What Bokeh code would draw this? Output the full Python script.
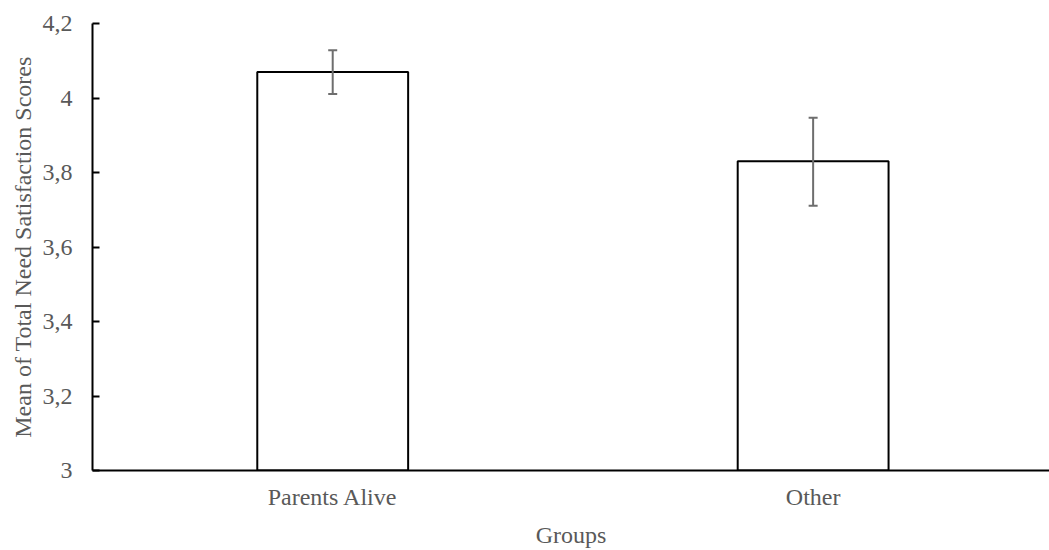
from bokeh.plotting import figure
from bokeh.models import Range1d, FixedTicker, CustomJSTickFormatter, Whisker, ColumnDataSource, TeeHead
from bokeh.embed import file_html
from bokeh.resources import INLINE

groups = ["Parents Alive", "Other"]
means = [4.07, 3.83]
err_low = [4.011, 3.711]
err_high = [4.128, 3.947]
y_ticks = [3.0, 3.2, 3.4, 3.6, 3.8, 4.0, 4.2]
x_title = "Groups"
y_title = "Mean of Total Need Satisfaction Scores"

xpos = [i + 0.5 for i in range(len(groups))]
src = ColumnDataSource(dict(x=xpos, top=means, lower=err_low, upper=err_high))

FONT = "'Liberation Serif', 'Times New Roman', serif"
TXT = "#595959"

p = figure(width=1049, height=550, output_backend="svg", toolbar_location=None,
           x_range=Range1d(0, 1.992), y_range=Range1d(3, 4.2),
           min_border_left=92, min_border_right=0, min_border_top=23, min_border_bottom=80)
p.outline_line_color = None
p.grid.grid_line_color = None
p.background_fill_color = "white"

p.vbar(x="x", top="top", bottom=3, width=0.314, source=src,
       fill_color="white", line_color="black", line_width=2)

w = Whisker(base="x", lower="lower", upper="upper", source=src, level="overlay",
            line_color="#6e6e6e", line_width=2,
            upper_head=TeeHead(size=9, line_color="#6e6e6e", line_width=2),
            lower_head=TeeHead(size=9, line_color="#6e6e6e", line_width=2))
p.add_layout(w)

p.yaxis.ticker = FixedTicker(ticks=y_ticks)
p.yaxis.formatter = CustomJSTickFormatter(code="""
var s = (Math.round(tick*10)/10).toString();
return s.replace('.', ',');
""")
p.xaxis.ticker = FixedTicker(ticks=xpos)
p.xaxis.formatter = CustomJSTickFormatter(args=dict(groups=groups), code="""
return groups[Math.round(tick - 0.5)];
""")

p.yaxis.axis_label = y_title
p.xaxis.axis_label = x_title

for ax in (p.xaxis[0], p.yaxis[0]):
    ax.axis_line_color = "black"
    ax.axis_line_width = 2
    ax.major_label_text_font = FONT
    ax.major_label_text_color = TXT
    ax.major_label_text_font_size = "24px"
    ax.axis_label_text_font = FONT
    ax.axis_label_text_color = TXT
    ax.axis_label_text_font_size = "24px"
    ax.axis_label_text_font_style = "normal"
    ax.minor_tick_line_color = None

p.yaxis.major_tick_in = 7
p.yaxis.major_tick_out = 0
p.yaxis.major_tick_line_color = "black"
p.yaxis.major_tick_line_width = 2
p.yaxis.major_label_standoff = 20
p.yaxis.axis_label_standoff = 4

p.xaxis.major_tick_in = 0
p.xaxis.major_tick_out = 0
p.xaxis.major_tick_line_color = None
p.xaxis.major_label_standoff = 13
p.xaxis.axis_label_standoff = 9

open("out.html", "w").write(file_html(p, INLINE))
